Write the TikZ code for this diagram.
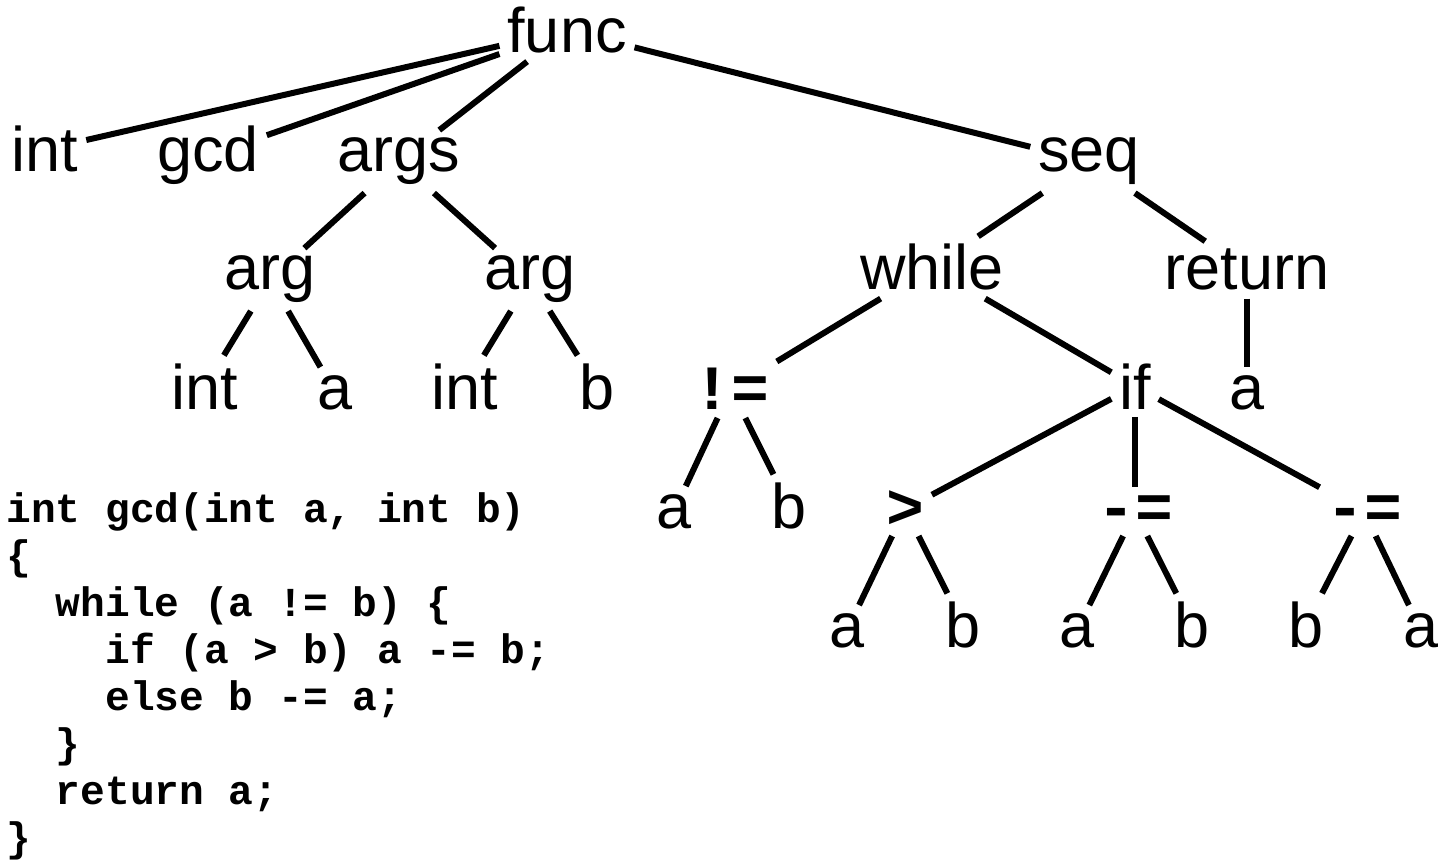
\documentclass[tikz,border=0pt]{standalone}
\usepackage{fontspec}
\setmainfont{Liberation Sans}
\setmonofont{Liberation Mono}
\newcommand{\treefont}{\rmfamily\fontsize{31.5}{38}\selectfont}
\newcommand{\opfont}{\ttfamily\bfseries\fontsize{31.5}{38}\selectfont}
\newcommand{\codefont}{\ttfamily\bfseries\fontsize{20.6}{23.5}\selectfont}
\begin{document}
\begin{tikzpicture}[x=0.5pt,y=-0.5pt,
  lab/.style={font=\treefont, anchor=base, inner sep=4pt, outer sep=0pt},
  op/.style={lab, font=\opfont},
  link/.style={line width=3pt, line cap=butt},
  code/.style={font=\codefont, align=left, anchor=base west, inner sep=0pt}]
\useasboundingbox (0,0) rectangle (1438,865);
% level 0
\node[lab] (func) at (567,53) {func};
% level 1
\node[lab] (int1) at (45,172) {int};
\node[lab] (gcd) at (208,172) {gcd};
\node[lab] (args) at (399,172) {args};
\node[lab] (seq) at (1089,172) {seq};
% level 2
\node[lab] (arg1) at (270,290) {arg};
\node[lab] (arg2) at (530,290) {arg};
\node[lab] (while) at (932,290) {while};
\node[lab] (ret) at (1247,290) {return};
% level 3
\node[lab] (int2) at (205,409) {int};
\node[lab] (a1) at (335,409) {a};
\node[lab] (int3) at (465,409) {int};
\node[lab] (b1) at (597,409) {b};
\node[op] (ne) at (731,410) {!=};
\node[lab] (if) at (1135,409) {if};
\node[lab] (ra) at (1247,409) {a};
% level 4
\node[lab] (nea) at (674,528) {a};
\node[lab] (neb) at (789,528) {b};
\node[op] (gt) at (905,528) {>};
\node[op] (me1) at (1135,528) {-=};
\node[op] (me2) at (1364,528) {-=};
% level 5
\node[lab] (gta) at (847,647) {a};
\node[lab] (gtb) at (963,647) {b};
\node[lab] (m1a) at (1077,647) {a};
\node[lab] (m1b) at (1192,647) {b};
\node[lab] (m2b) at (1306,647) {b};
\node[lab] (m2a) at (1421,647) {a};
% edges
\draw[link] (func) -- (int1);
\draw[link] (func) -- (gcd);
\draw[link] (func) -- (args);
\draw[link] (func) -- (seq);
\draw[link] (args) -- (arg1);
\draw[link] (args) -- (arg2);
\draw[link] (seq) -- (while);
\draw[link] (seq) -- (ret);
\draw[link] (arg1) -- (int2);
\draw[link] (arg1) -- (a1);
\draw[link] (arg2) -- (int3);
\draw[link] (arg2) -- (b1);
\draw[link] (while) -- (ne);
\draw[link] (while) -- (if);
\draw[link] (ret) -- (ra);
\draw[link] (ne) -- (nea);
\draw[link] (ne) -- (neb);
\draw[link] (if) -- (gt);
\draw[link] (if) -- (me1);
\draw[link] (if) -- (me2);
\draw[link] (gt) -- (gta);
\draw[link] (gt) -- (gtb);
\draw[link] (me1) -- (m1a);
\draw[link] (me1) -- (m1b);
\draw[link] (me2) -- (m2b);
\draw[link] (me2) -- (m2a);
% source code (base anchor = baseline of the last line)
\node[code] (src) at (6,851) {int gcd(int a, int b)\\
\{\\
\phantom{xx}while (a != b) \{\\
\phantom{xxxx}if (a > b) a -= b;\\
\phantom{xxxx}else b -= a;\\
\phantom{xx}\}\\
\phantom{xx}return a;\\
\}};
\end{tikzpicture}
\end{document}
